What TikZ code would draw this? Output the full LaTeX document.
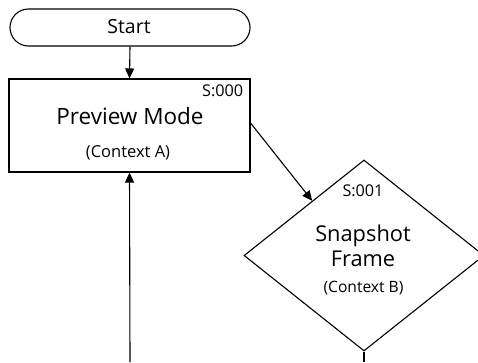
\documentclass[tikz,border=0pt]{standalone}
\usepackage{fontspec}
\setmainfont{Open Sans}
\usetikzlibrary{shapes.geometric,arrows.meta,calc}
\begin{document}
\begin{tikzpicture}[x=1pt,y=-1pt,
  box/.style={draw,line width=1.1pt,inner sep=0pt},
  conn/.style={line width=1.1pt,-{Triangle[length=10pt,width=9pt]}},
  plain/.style={line width=1.1pt},
  big/.style={font=\fontsize{22}{26}\selectfont,inner sep=0pt},
  small/.style={font=\fontsize{16}{19}\selectfont,inner sep=0pt},
  tag/.style={font=\fontsize{16.2}{19}\selectfont,inner sep=0pt}]
\useasboundingbox (0,0) rectangle (478,362);
\node[box,rounded corners=18.5pt,minimum width=240pt,minimum height=37pt] (start) at (130,27.5) {};
\node[inner sep=0pt,font=\fontsize{19.5}{23}\selectfont,anchor=base] (starttxt) at (129,33.3) {Start};
\node[box,minimum width=241pt,minimum height=93pt] (prev) at (129.5,125.5) {};
\node[big,font=\fontsize{22.5}{26}\selectfont,anchor=base] (prevtxt) at (130,124) {Preview Mode};
\node[small,font=\fontsize{16.5}{19}\selectfont,anchor=base] (prevctx) at (128,157.5) {(Context A)};
\node[tag,anchor=base east] (prevtag) at (243.3,96.5) {S:000};
\node[box,diamond,minimum width=240pt,minimum height=191pt,shape aspect=1.2565] (snap) at (364,255.5) {};
\node[tag,anchor=base] (snaptag) at (363,196) {S:001};
\node[big,font=\fontsize{21.8}{26}\selectfont,anchor=base] (snaptxt1) at (363,241.5) {Snapshot};
\node[big,font=\fontsize{21.8}{26}\selectfont,anchor=base] (snaptxt2) at (363,266) {Frame};
\node[small,font=\fontsize{15.6}{19}\selectfont,anchor=base] (snapctx) at (363.5,292.5) {(Context B)};
\coordinate (loopA) at (130,362);
\coordinate (loopB) at (364,362);
\coordinate (hit) at ($(snap.north)!0.43!(snap.west)$);
\draw[conn] (start.south) -- (prev.north);
\draw[conn] ($(prev.east)+(0,-2.5)$) -- (hit);
\draw[conn] (loopA) -- (prev.south);
\draw[plain] (snap.south) -- (loopB);
\end{tikzpicture}
\end{document}
